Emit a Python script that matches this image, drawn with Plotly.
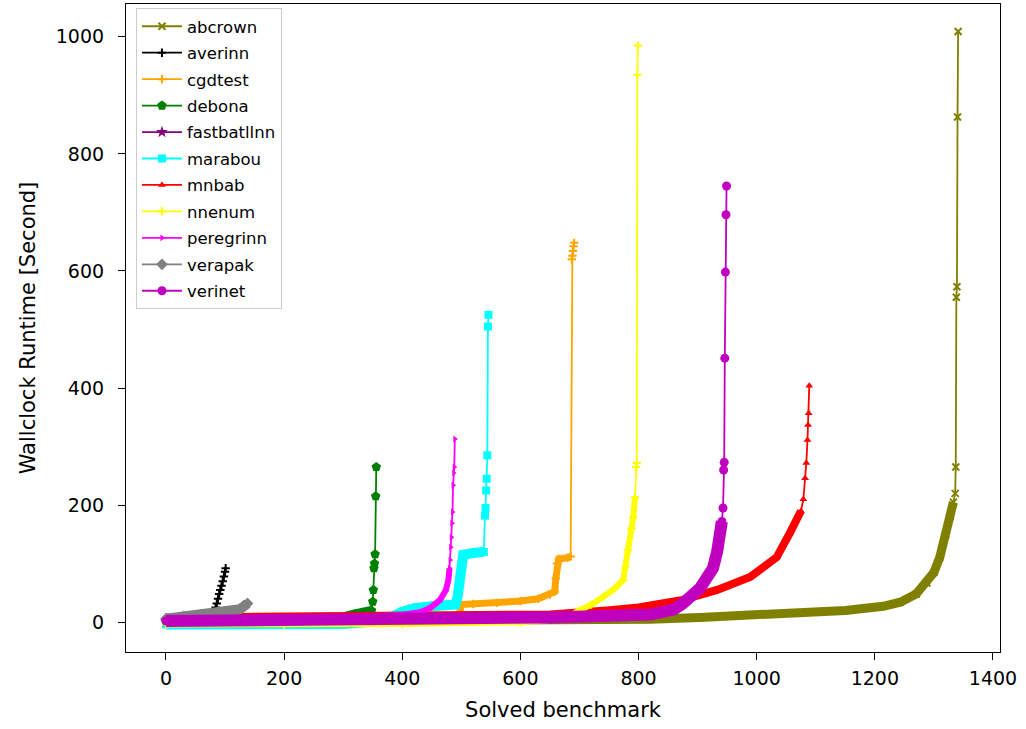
import plotly.graph_objects as go

# ---------------- data ----------------
solvers = ["abcrown", "averinn", "cgdtest", "debona", "fastbatllnn", "marabou",
           "mnbab", "nnenum", "peregrinn", "verapak", "verinet"]

# dense part of each sorted-runtime curve (solved index, runtime in s)
abcrown_x = [0, 400, 819, 904, 1073, 1150, 1214, 1243, 1270, 1288, 1300, 1310, 1320, 1327, 1333]
abcrown_y = [0, 1, 5, 8, 15, 20, 27, 34, 48, 67, 85, 111, 150, 180, 205]
abcrown_tail_x = [1336, 1337, 1338, 1339, 1340, 1341]
abcrown_tail_y = [220, 265, 555, 573, 863, 1009]

averinn_x = [0, 20, 40, 60, 80]
averinn_y = [2, 4, 6, 9, 14]
averinn_tail_x = [82, 84, 86, 88, 90, 92, 94, 96, 98, 100, 101]
averinn_tail_y = [18, 25, 32, 40, 48, 55, 62, 70, 78, 86, 92]

cgdtest_x = [0, 250, 495, 500, 520, 560, 600, 630, 650, 658, 660, 662, 665, 680, 685]
cgdtest_y = [2, 4, 7, 30, 31, 33, 36, 40, 47, 52, 75, 100, 108, 110, 112]
cgdtest_tail_x = [687, 688, 689, 690, 691]
cgdtest_tail_y = [620, 626, 634, 642, 648]

debona_x = [0, 100, 200, 300, 320, 335, 348]
debona_y = [2, 4, 6, 9, 14, 16, 20]
debona_tail_x = [350, 351, 352, 353, 354, 355, 356]
debona_tail_y = [35, 55, 92, 100, 116, 215, 265]

fastbatllnn_x = [0, 30, 60]
fastbatllnn_y = [1, 2, 3]
fastbatllnn_tail_x = []
fastbatllnn_tail_y = []

marabou_x = [0, 100, 200, 300, 350, 380, 400, 420, 450, 470, 490, 494, 497, 500, 503, 520, 538]
marabou_y = [-4, -4, -4, -3, 1, 8, 18, 24, 27, 28, 30, 45, 70, 95, 115, 118, 120]
marabou_tail_x = [540, 541, 542, 543, 544, 545, 546]
marabou_tail_y = [182, 195, 225, 245, 285, 505, 525]

mnbab_x = [0, 300, 500, 650, 746, 800, 875, 933, 989, 1034, 1056, 1075]
mnbab_y = [8, 9, 10, 13, 20, 25, 38, 55, 77, 111, 152, 190]
mnbab_tail_x = [1079, 1082, 1084, 1086, 1087, 1088, 1089]
mnbab_tail_y = [210, 246, 272, 311, 337, 357, 404]

nnenum_x = [0, 200, 400, 600, 680, 696, 720, 740, 760, 774, 778, 782, 788, 791, 794]
nnenum_y = [-4, -4, -3, 0, 6, 18, 30, 43, 58, 72, 95, 123, 160, 179, 214]
nnenum_tail_x = [796, 797, 798, 799]
nnenum_tail_y = [265, 272, 935, 985]

peregrinn_x = [0, 100, 200, 300, 396, 430, 447, 464, 474, 478, 480]
peregrinn_y = [3, 4, 5, 7, 12, 17, 24, 38, 55, 72, 92]
peregrinn_tail_x = [481, 482, 483, 484, 485, 486, 487, 488, 489]
peregrinn_tail_y = [106, 128, 145, 169, 188, 234, 255, 265, 313]

verapak_x = [0, 30, 60, 90, 115, 125, 132, 138]
verapak_y = [6, 10, 13, 15, 18, 22, 27, 32]
verapak_tail_x = []
verapak_tail_y = []

verinet_x = [0, 300, 650, 820, 860, 875, 890, 904, 915, 926, 933, 938, 941]
verinet_y = [2, 4, 8, 13, 22, 32, 44, 58, 75, 92, 120, 152, 172]
verinet_tail_x = [943, 944, 945, 946, 947, 948, 949]
verinet_tail_y = [195, 260, 273, 451, 598, 696, 745]

x_ticks = [0, 200, 400, 600, 800, 1000, 1200, 1400]
y_ticks = [0, 200, 400, 600, 800, 1000]

# ---------------- styles ----------------
styles = {
    "abcrown":     dict(color="#808000", symbol="x-thin",        msize=7,  band=9),
    "averinn":     dict(color="#000000", symbol="cross-thin",    msize=6,  band=5),
    "cgdtest":     dict(color="#FFA500", symbol="cross-thin",    msize=6,  band=7),
    "debona":      dict(color="#008000", symbol="pentagon",      msize=10, band=9),
    "fastbatllnn": dict(color="#800080", symbol="star",          msize=9,  band=8),
    "marabou":     dict(color="#00FFFF", symbol="square",        msize=8,  band=10),
    "mnbab":       dict(color="#FF0000", symbol="triangle-up",   msize=7,  band=8),
    "nnenum":      dict(color="#FFFF00", symbol="cross-thin",    msize=6,  band=6),
    "peregrinn":   dict(color="#FF00FF", symbol="triangle-right", msize=6, band=6),
    "verapak":     dict(color="#808080", symbol="diamond",       msize=9,  band=10),
    "verinet":     dict(color="#BF00BF", symbol="circle",        msize=9,  band=12),
}

data = {
    "abcrown": (abcrown_x, abcrown_y, abcrown_tail_x, abcrown_tail_y),
    "averinn": (averinn_x, averinn_y, averinn_tail_x, averinn_tail_y),
    "cgdtest": (cgdtest_x, cgdtest_y, cgdtest_tail_x, cgdtest_tail_y),
    "debona": (debona_x, debona_y, debona_tail_x, debona_tail_y),
    "fastbatllnn": (fastbatllnn_x, fastbatllnn_y, fastbatllnn_tail_x, fastbatllnn_tail_y),
    "marabou": (marabou_x, marabou_y, marabou_tail_x, marabou_tail_y),
    "mnbab": (mnbab_x, mnbab_y, mnbab_tail_x, mnbab_tail_y),
    "nnenum": (nnenum_x, nnenum_y, nnenum_tail_x, nnenum_tail_y),
    "peregrinn": (peregrinn_x, peregrinn_y, peregrinn_tail_x, peregrinn_tail_y),
    "verapak": (verapak_x, verapak_y, verapak_tail_x, verapak_tail_y),
    "verinet": (verinet_x, verinet_y, verinet_tail_x, verinet_tail_y),
}

fig = go.Figure()
for name in solvers:
    dx, dy, tx, ty = data[name]
    st = styles[name]
    fig.add_trace(go.Scatter(
        x=dx, y=dy, mode="lines", line=dict(color=st["color"], width=st["band"]),
        showlegend=False, legendgroup=name, hoverinfo="skip"))
    thin = "-thin" in st["symbol"]
    fig.add_trace(go.Scatter(
        x=dx + tx, y=dy + ty, mode="lines+markers", name=name, legendgroup=name,
        line=dict(color=st["color"], width=1.8),
        marker=dict(symbol=st["symbol"], size=st["msize"], color=st["color"],
                    line=dict(color=st["color"], width=2 if thin else 0))))

font = "DejaVu Sans"
axis_common = dict(showline=True, linecolor="black", linewidth=1.2, mirror=True,
                   ticks="outside", ticklen=7, tickwidth=1.2, tickcolor="black",
                   showgrid=False, zeroline=False,
                   tickfont=dict(family=font, size=19, color="black"))

fig.update_layout(
    width=1026, height=729,
    margin=dict(l=126, r=26, t=4, b=77),
    paper_bgcolor="white", plot_bgcolor="white",
    font=dict(family=font, color="black"),
    xaxis=dict(range=[-67.7, 1411.9], tickvals=x_ticks, ticklabelstandoff=2,
               title=dict(text="Solved benchmark", font=dict(family=font, size=21), standoff=14),
               **axis_common),
    yaxis=dict(range=[-51, 1056], tickvals=y_ticks, ticklabelstandoff=10,
               title=dict(text="Wallclock Runtime [Second]", font=dict(family=font, size=21), standoff=14),
               **axis_common),
    legend=dict(x=0.0114, y=0.9938, xanchor="left", yanchor="top",
                bgcolor="rgba(255,255,255,0.8)", bordercolor="#cccccc", borderwidth=1,
                font=dict(family=font, size=16.5, color="black"),
                traceorder="grouped", tracegroupgap=2, itemwidth=40),
)

fig.write_html("out.html")
